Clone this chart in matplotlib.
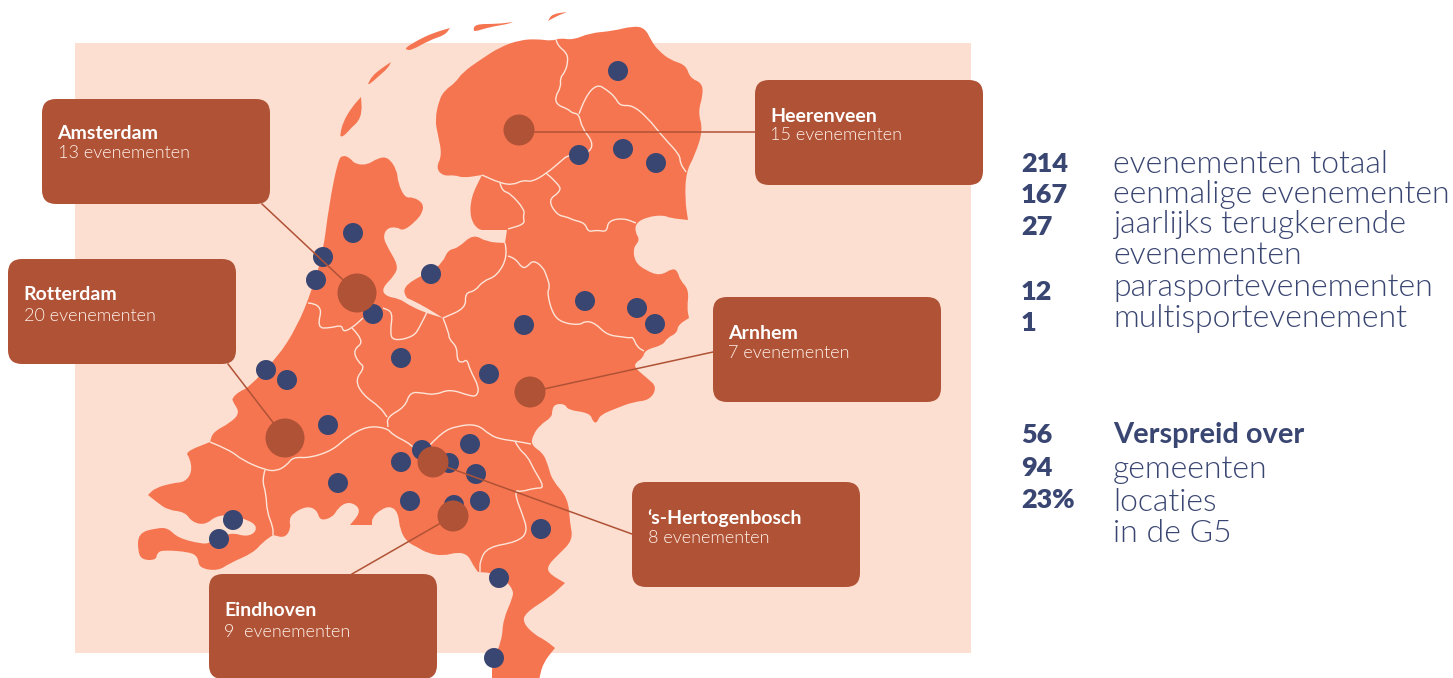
import matplotlib
matplotlib.use("Agg")
import matplotlib.pyplot as plt
from matplotlib.patches import Rectangle, FancyBboxPatch, Circle, PathPatch
from matplotlib.path import Path

BG = "#fcdfd1"
LAND = "#f57551"
BROWN = "#b05235"
NAVY = "#3a4672"
BORDER = "#fde5d8"

# outlines in pixels (a point given twice keeps its corner sharp)
mainland = [(343,155),(350,158),(355,164),(367,165),(378,158),(388,157),(397,170),(398,183),(405,198),(413,197),(423,203),(423,212),
    (415,222),(403,231),(397,227),(387,228),(383,237),(388,248),(398,265),(395,275),(382,288),(385,296),(400,299),(407,304),(423,312),(443,318),(443,318),
    (466,308),(465,293),(475,291),(483,281),(497,276),(508,256),(505,243),(505,243),(507,230),(507,230),(487,230),(478,230),(470,218),(471,197),(482,175),(482,175),
    (463,178),(455,175),(443,176),(436,168),(442,155),(438,135),(435,120),(439,100),(445,90),(455,83),(463,72),(480,60),(500,47),(520,40),
    (537,39),(552,41),(560,38),(573,40),(590,33),(613,31),(633,26),(645,28),(652,42),(658,50),(670,60),(686,65),(690,78),(702,83),(703,95),
    (698,112),(703,130),(695,155),(686,172),(685,200),(688,220),(688,220),(670,218),(663,215),(647,217),(636,223),(635,232),(640,240),(633,248),(635,262),
    (645,270),(660,276),(673,268),(678,272),(680,280),(689,290),(687,308),(689,318),(689,318),(678,325),(677,333),(667,338),(663,345),(645,350),(643,358),
    (635,363),(635,368),(647,378),(657,387),(650,400),(633,402),(617,408),(600,415),(597,423),(593,422),(590,413),(568,410),(565,404),(555,404),
    (552,410),(552,417),(540,425),(533,435),(531,445),(543,453),(548,465),(552,480),(568,498),(570,523),(573,540),(558,555),(548,565),(548,573),
    (565,583),(565,583),(550,597),(525,613),(523,623),(535,635),(545,640),(555,648),(555,648),(543,663),(539,680),(539,680),(492,680),(492,680),(492,663),(502,640),(503,620),(513,597),
    (513,590),(507,582),(493,573),(478,572),(478,572),(473,565),(468,555),(458,552),(443,556),(427,553),(417,547),(407,542),(400,530),(398,512),(390,506),
    (380,510),(372,518),(372,525),(372,525),(350,525),(350,525),(360,513),(357,505),(347,502),(338,508),(333,517),(320,521),(317,510),(307,506),(293,513),(289,520),
    (291,528),(285,538),(273,535),(273,535),(263,542),(253,553),(230,563),(218,571),(199,568),(198,557),(190,552),(163,550),(157,553),(156,560),(143,560),
    (138,553),(138,533),(157,528),(168,528),(178,538),(202,544),(210,543),(230,532),(247,537),(257,531),(254,522),(230,515),(216,516),(205,525),
    (192,522),(185,512),(168,510),(158,503),(148,495),(148,495),(155,488),(173,483),(185,482),(192,472),(190,458),(185,452),(210,442),(210,442),(213,432),(230,423),
    (240,413),(233,402),(232,398),(240,391),(248,388),(277,358),(297,327),(312,290),(323,253),(329,205),(338,160)]
flevoland = [(403,287),(422,275),(430,273),(443,262),(448,250),(458,248),(473,234),(487,242),(505,243),(505,243),(508,256),(497,276),(483,281),
    (475,291),(465,293),(466,308),(443,318),(443,318),(427,308),(410,299),(406,298)]
texel = [(340,135),(343,122),(352,107),(361,97),(361,97),(362,112),(358,122),(352,127),(345,135),(341,137)]
vlieland = [(368,84),(372,76),(382,68),(391,62),(391,62),(388,68),(380,75),(370,84),(368,84)]
terschelling = [(405,48),(418,40),(433,33),(450,28),(450,28),(445,35),(430,40),(412,50),(407,50)]
ameland = [(473,31),(475,24),(497,24),(513,22),(513,22),(508,24),(490,27),(477,31)]
schiermonnikoog = [(548,21),(548,21),(552,14),(567,12),(567,12),(557,16)]

borders = [
    [(556,39),(557,45),(567,53),(568,62),(565,72),(560,78),(561,87),(555,97),(557,105),(568,109),(572,113),(579,114),(582,128),(593,142),(590,152),(578,155),(568,155),(560,162),(547,173),(532,182),(523,180),(513,185),(500,183),(482,175)],
    [(579,114),(585,97),(597,84),(607,90),(615,97),(620,106),(632,105),(647,117),(663,137),(680,155),(680,163),(686,172)],
    [(546,173),(560,185),(560,192),(548,200),(557,215),(567,217),(573,220),(585,223),(588,232),(597,230),(607,232),(608,221),(623,218),(636,223)],
    [(500,183),(502,191),(510,193),(525,210),(523,217),(525,224),(508,229)],
    [(508,256),(515,258),(522,268),(527,267),(533,260),(543,267),(547,277),(550,287),(547,293),(553,315),(563,323),(580,325),(585,321),(595,323),(607,335),(623,337),(630,338),(633,337),(637,347),(644,351)],
    [(505,243),(508,256),(497,276),(483,281),(475,291),(465,293),(466,308),(443,318)],
    [(443,318),(449,333),(449,339),(457,347),(457,360),(462,363),(467,359),(470,370),(479,387),(477,396),(470,396),(450,389),(435,395),(423,393),(410,392),(405,407),(387,417),(388,427)],
    [(427,312),(420,327),(413,337),(393,341),(390,332),(393,312),(383,308)],
    [(308,303),(323,304),(317,328),(330,328),(342,325),(343,332),(352,328),(363,318)],
    [(352,328),(365,341),(353,350),(358,362),(365,367),(355,380),(363,395),(380,407),(387,417)],
    [(210,442),(230,450),(242,460),(265,470),(277,471),(287,465),(293,457),(310,458),(333,450),(347,437),(367,426),(387,428),(393,435),(407,442),(413,447)],
    [(265,470),(262,480),(266,493),(267,512),(273,527),(273,535)],
    [(430,445),(442,432),(457,426),(477,424),(490,435),(500,439),(515,441),(531,444)],
    [(515,441),(518,448),(528,457),(533,468),(545,488),(535,488),(520,492),(516,490),(516,498),(522,513),(528,532),(517,542),(488,547),(480,560),(480,572)],
]

dot_x = [618,579,623,656,353,323,316,373,431,401,524,585,637,655,489,266,287,328,338,401,422,449,470,476,410,454,480,541,233,219,499,494]
dot_y = [71,155,149,163,233,257,280,314,274,358,325,301,308,324,374,370,380,425,483,462,450,463,444,474,501,505,501,529,520,539,578,658]

cities = ["Heerenveen", "Amsterdam", "Rotterdam", "Arnhem", "\u2018s-Hertogenbosch", "Eindhoven"]
city_counts = ["15 evenementen", "13 evenementen", "20 evenementen", "7 evenementen", "8 evenementen", "9  evenementen"]
city_x = [519, 357, 285, 530, 433, 453]
city_y = [130, 293, 438, 392, 462, 516]
city_r = [15.5, 19.5, 19.5, 15.5, 15.5, 15.5]
box_x = [755, 42, 8, 713, 632, 209]
box_y = [80, 99, 259, 297, 482, 574]
line_start_y = [132, 293, 438, 392, 462, 516]
line_end_x = [755, 262, 228, 713, 632, 352]
line_end_y = [132, 204, 364, 352, 534, 574]
title_base = [122, 139, 300, 339, 524, 616]
sub_base = [140, 158, 321, 358, 543, 637]

stat_numbers = ["214", "167", "27", "12", "1", "56", "94", "23%"]
stat_number_y = [172, 203, 235, 300, 331, 443, 476, 508]
stat_labels = ["evenementen totaal", "eenmalige evenementen", "jaarlijks terugkerende", "evenementen",
               "parasportevenementen", "multisportevenement", "gemeenten", "locaties", "in de G5"]
stat_label_y = [173, 203, 233, 264, 296, 327, 478, 511, 542]


def mid(a, b):
    return ((a[0] + b[0]) / 2, (a[1] + b[1]) / 2)


def smooth(points):
    # quadratic curves through the midpoints, so the coast is not angular
    n = len(points)
    verts = [mid(points[-1], points[0])]
    codes = [Path.MOVETO]
    for i in range(n):
        verts += [points[i], mid(points[i], points[(i + 1) % n])]
        codes += [Path.CURVE3, Path.CURVE3]
    return Path(verts, codes)


def smooth_line(points):
    verts = [points[0]]
    codes = [Path.MOVETO]
    for i in range(1, len(points) - 1):
        verts += [points[i], mid(points[i], points[i + 1])]
        codes += [Path.CURVE3, Path.CURVE3]
    verts.append(points[-1])
    codes.append(Path.LINETO)
    return Path(verts, codes)


def px(size):
    return size * 72 / 100


plt.rcParams['font.family'] = ['Lato', 'DejaVu Sans']
fig = plt.figure(figsize=(14.53, 6.78), dpi=100)
ax = fig.add_axes([0, 0, 1, 1])
ax.set_xlim(0, 1453)
ax.set_ylim(678, 0)
ax.axis('off')

ax.add_patch(Rectangle((75, 43), 896, 610, color=BG, lw=0, zorder=1))

for shape in [mainland, flevoland, texel, vlieland, terschelling, ameland, schiermonnikoog]:
    ax.add_patch(PathPatch(smooth(shape), fc=LAND, ec='none', zorder=2))
for b in borders:
    ax.add_patch(PathPatch(smooth_line(b), fc='none', ec=BORDER, lw=1.0, zorder=3))

for x, y in zip(dot_x, dot_y):
    ax.add_patch(Circle((x, y), 10, fc=NAVY, ec='none', zorder=4))

for i in range(len(cities)):
    ax.plot([city_x[i], line_end_x[i]], [line_start_y[i], line_end_y[i]], color=BROWN, lw=1.1, zorder=5)
    ax.add_patch(Circle((city_x[i], city_y[i]), city_r[i], fc=BROWN, ec='none', zorder=6))
    ax.add_patch(FancyBboxPatch((box_x[i] + 14, box_y[i] + 14), 200, 77,
                                boxstyle="round,pad=14,rounding_size=14", fc=BROWN, ec='none', zorder=7))
    tx = box_x[i] + 16
    ax.text(tx - 0.5, title_base[i], cities[i], color='white', fontsize=px(19.5), fontweight='bold', va='baseline', zorder=8)
    ax.text(tx - 0.5, sub_base[i], city_counts[i], color='#fff3ec', fontsize=px(18), fontweight=300, va='baseline', zorder=8)

for s, y in zip(stat_numbers, stat_number_y):
    ax.text(1021, y, s, color=NAVY, fontsize=px(27), fontweight=800, va='baseline')
for s, y in zip(stat_labels, stat_label_y):
    ax.text(1113, y, s, color=NAVY, fontsize=px(32), fontweight=300, va='baseline')
ax.text(1113, 443, "Verspreid over", color=NAVY, fontsize=px(29), fontweight='bold', va='baseline')

fig.savefig("out.png", dpi=100)
